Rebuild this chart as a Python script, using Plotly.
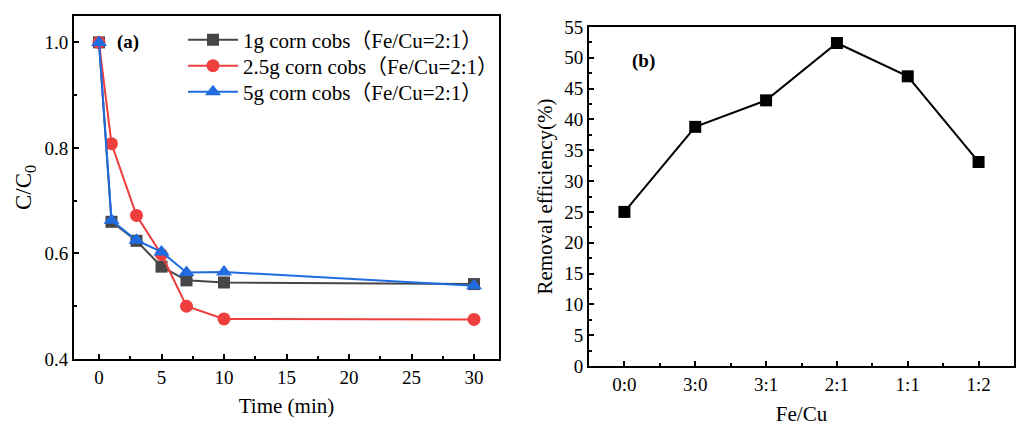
import plotly.graph_objects as go

# ---- data (a)
time_min = [0, 1, 3, 5, 7, 10, 30]
c_1g = [1.0, 0.66, 0.624, 0.575, 0.549, 0.545, 0.542]
c_25g = [1.0, 0.808, 0.672, 0.598, 0.500, 0.476, 0.475]
c_5g = [1.0, 0.663, 0.625, 0.603, 0.564, 0.565, 0.539]
names_a = ["1g corn cobs（Fe/Cu=2:1）", "2.5g corn cobs（Fe/Cu=2:1）", "5g corn cobs（Fe/Cu=2:1）"]

# ---- data (b)
ratios = ["0:0", "3:0", "3:1", "2:1", "1:1", "1:2"]
removal = [25.0, 38.8, 43.1, 52.4, 47.0, 33.1]

FONT = "Liberation Serif, Times New Roman, Noto Sans CJK SC, serif"
GRAY, RED, BLUE = "#474747", "#ee3e3e", "#1f6bdf"
W, H = 1016, 426

fig = go.Figure()
series = [(c_1g, GRAY, "square", 12), (c_25g, RED, "circle", 13), (c_5g, BLUE, "triangle-up", 14)]
legend_ids = ["legend", "legend2", "legend3"]
for i, (vals, col, sym, sz) in enumerate(series):
    fig.add_trace(go.Scatter(x=time_min, y=vals, mode="lines+markers", name=names_a[i],
                             legend=legend_ids[i],
                             line=dict(color=col, width=2),
                             marker=dict(symbol=sym, size=sz, color=col),
                             xaxis="x", yaxis="y"))

fig.add_trace(go.Scatter(x=list(range(len(ratios))), y=removal, mode="lines+markers",
                         showlegend=False, line=dict(color="black", width=2),
                         marker=dict(symbol="square", size=12, color="black"),
                         xaxis="x2", yaxis="y2"))

def px_x(a, b):
    return [a / W, b / W]
def px_y(top, bot):
    return [1 - bot / H, 1 - top / H]

axcommon = dict(showline=True, linecolor="black", linewidth=2, mirror=True, ticks="inside",
                ticklen=5, tickwidth=1.5, tickcolor="black", showgrid=False, zeroline=False,
                automargin=False,
                tickfont=dict(family=FONT, size=19, color="black"),
                title_font=dict(family=FONT, size=21, color="black"))

def leg(ypx):
    return dict(x=183 / W, y=1 - ypx / H, xanchor="left", yanchor="middle",
                font=dict(family=FONT, size=21, color="black"), bgcolor="rgba(0,0,0,0)",
                itemwidth=50)

fig.update_layout(
    width=W, height=H, margin=dict(l=0, r=0, t=0, b=0, autoexpand=False),
    paper_bgcolor="white", plot_bgcolor="white",
    font=dict(family=FONT, color="black"),
    xaxis=dict(domain=px_x(74, 499), range=[-2, 32], dtick=5, tick0=0,
               minor=dict(dtick=2.5, ticks="inside", ticklen=3, tickcolor="black"),
               title=dict(text="Time (min)", standoff=12), anchor="y", **axcommon),
    yaxis=dict(domain=px_y(16, 359), range=[0.4, 1.05], dtick=0.2, tick0=0.4, tickformat=".1f",
               minor=dict(dtick=0.1, ticks="inside", ticklen=3, tickcolor="black"),
               title=dict(text="C/C<sub>0</sub>", standoff=6), anchor="x", **axcommon),
    xaxis2=dict(domain=px_x(589, 1014), range=[-0.5, 5.5], tickmode="array",
                tickvals=list(range(len(ratios))), ticktext=ratios,
                minor=dict(tickvals=[i + 0.5 for i in range(-1, 6)], ticks="inside", ticklen=3, tickcolor="black"),
                title=dict(text="Fe/Cu", standoff=14), anchor="y2", **axcommon),
    yaxis2=dict(domain=px_y(27, 366), range=[0, 55], dtick=5,
                minor=dict(dtick=2.5, ticks="inside", ticklen=3, tickcolor="black"),
                title=dict(text="Removal efficiency(%)", standoff=6), anchor="x2", **axcommon),
    legend=leg(40),
    legend2=leg(66),
    legend3=leg(92),
    annotations=[
        dict(text="<b>(a)</b>", x=128 / W, y=1 - 42 / H, xref="paper", yref="paper",
             xanchor="center", yanchor="middle",
             showarrow=False, font=dict(family=FONT, size=19, color="black")),
        dict(text="<b>(b)</b>", x=643 / W, y=1 - 61 / H, xref="paper", yref="paper",
             xanchor="center", yanchor="middle",
             showarrow=False, font=dict(family=FONT, size=19, color="black")),
    ],
)
fig.update_yaxes(title_font_size=23, selector=dict(anchor="x"))

fig.write_html("out.html")
